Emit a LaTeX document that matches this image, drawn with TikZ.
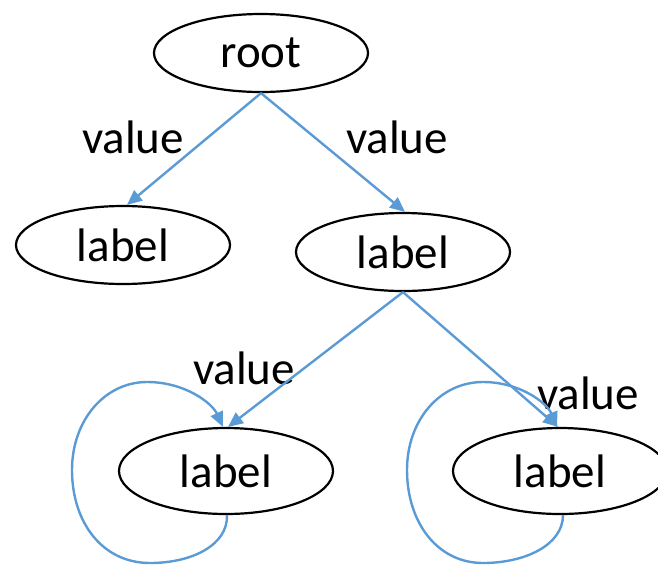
\documentclass[tikz,border=0pt]{standalone}
\usepackage{fontspec}
\setmainfont{Carlito}
\usetikzlibrary{shapes.geometric,arrows.meta}
\definecolor{edgeblue}{HTML}{5B9BD5}
\tikzset{
  oval/.style={ellipse,draw=black,line width=2.2pt,minimum width=214pt,minimum height=78pt,inner sep=0pt,font=\fontsize{47}{56}\selectfont},
  bigoval/.style={oval,minimum height=86pt},
  conn/.style={draw=edgeblue,line width=2.4pt,-{Triangle[length=15pt,width=13pt]}},
  lbl/.style={font=\fontsize{47}{56}\selectfont,inner sep=0pt}
}
\begin{document}
\begin{tikzpicture}[x=1pt,y=-1pt]
\useasboundingbox (0,0) rectangle (658,566);
\node[oval] (root) at (261,53) {root};
\node[oval] (l1) at (123,245) {label};
\node[oval] (l2) at (403,252) {label};
\node[bigoval] (l3) at (226,471) {label};
\node[bigoval] (l4) at (560,471) {label};
\node[lbl] (v1) at (133,137) {value};
\node[lbl] (v2) at (397,137) {value};
\node[lbl] (v3) at (244,368) {value};
\node[lbl] (v4) at (588,393) {value};
\draw[conn] (root.south) -- ([xshift=4pt]l1.north);
\draw[conn] (root.south) -- ([xshift=2pt]l2.north);
\draw[conn] (l2.south) -- ([xshift=2pt]l3.north);
\draw[conn] (l2.south) -- ([xshift=-2pt]l4.north);
\draw[conn] ([xshift=1pt]l3.south) .. controls (228,545) and (192,563) .. (150,563)
  .. controls (102,563) and (72,522) .. (72,470)
  .. controls (72,420) and (105,382) .. (147,382)
  .. controls (185,382) and (212,403) .. ([xshift=-3pt]l3.north);
\draw[conn] ([xshift=3pt]l4.south) .. controls (563,545) and (525,563) .. (483,563)
  .. controls (437,563) and (407,522) .. (407,470)
  .. controls (407,420) and (440,382) .. (483,382)
  .. controls (520,382) and (547,403) .. ([xshift=-3pt]l4.north);
\end{tikzpicture}
\end{document}
